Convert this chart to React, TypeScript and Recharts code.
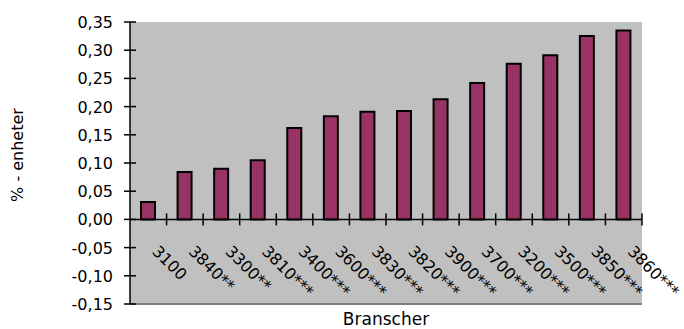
import { Bar, BarChart, CartesianGrid, ReferenceLine, XAxis, YAxis } from "recharts";

const categories = [
  "3100",
  "3840**",
  "3300**",
  "3810***",
  "3400***",
  "3600***",
  "3830***",
  "3820***",
  "3900***",
  "3700***",
  "3200***",
  "3500***",
  "3850***",
  "3860***",
];

const values = [0.031, 0.084, 0.09, 0.105, 0.162, 0.183, 0.191, 0.192, 0.213, 0.242, 0.276, 0.291, 0.325, 0.335];

const yTicks = [-0.15, -0.1, -0.05, 0, 0.05, 0.1, 0.15, 0.2, 0.25, 0.3, 0.35];

const data = categories.map((name, i) => ({ name, value: values[i] }));

// layout
const WIDTH = 684;
const HEIGHT = 329;
const MARGIN = { top: 22, right: 42, left: 0, bottom: 0 };
const Y_AXIS_WIDTH = 130;
const X_AXIS_HEIGHT = 25;
const Y_MIN = -0.15;
const Y_MAX = 0.35;
const FONT = "'DejaVu Sans', sans-serif";

const plotTop = MARGIN.top;
const plotHeight = HEIGHT - MARGIN.top - MARGIN.bottom - X_AXIS_HEIGHT;
const plotWidth = WIDTH - MARGIN.left - MARGIN.right - Y_AXIS_WIDTH;
const zeroY = plotTop + (Y_MAX / (Y_MAX - Y_MIN)) * plotHeight;
const band = plotWidth / categories.length;

function formatTick(value: number): string {
  return value.toFixed(2).replace(".", ",");
}

function XTick({ x, payload }: any) {
  const ox = x + 3;
  const oy = zeroY + 33;
  return (
    <g>
      <line x1={x + band / 2} x2={x + band / 2} y1={zeroY - 6} y2={zeroY + 6} stroke="#000" strokeWidth={1.5} />
      <text
        x={ox}
        y={oy}
        transform={`rotate(45, ${ox}, ${oy})`}
        fontFamily={FONT}
        fontSize={16}
        fill="#000"
        textAnchor="start"
      >
        {payload.value}
      </text>
    </g>
  );
}

function YTick({ x, y, payload }: any) {
  return (
    <g>
      <line x1={x - 6} x2={x + 6} y1={y} y2={y} stroke="#000" strokeWidth={1.5} />
      <text x={x - 17} y={y} dy={6} fontFamily={FONT} fontSize={16} fill="#000" textAnchor="end">
        {formatTick(payload.value)}
      </text>
    </g>
  );
}

function YLabel({ viewBox }: any) {
  const cx = 17;
  const cy = viewBox.y + viewBox.height / 2 - 8;
  return (
    <text
      x={cx}
      y={cy}
      transform={`rotate(-90, ${cx}, ${cy})`}
      fontFamily={FONT}
      fontSize={16}
      fill="#000"
      textAnchor="middle"
      dominantBaseline="central"
    >
      % - enheter
    </text>
  );
}

export default function App() {
  return (
    <div style={{ position: "absolute", left: 0, top: 0, width: WIDTH, height: HEIGHT, background: "#fff" }}>
      <BarChart width={WIDTH} height={HEIGHT} data={data} margin={MARGIN} barCategoryGap={0}>
        <CartesianGrid fill="#C0C0C0" stroke="none" horizontal={false} vertical={false} />
        <XAxis
          dataKey="name"
          interval={0}
          height={X_AXIS_HEIGHT}
          axisLine={{ stroke: "#808080", strokeWidth: 2 }}
          tickLine={false}
          tick={<XTick />}
          label={{
            value: "Branscher",
            position: "insideBottom",
            offset: 4,
            fill: "#000",
            fontSize: 17,
            fontFamily: FONT,
          }}
        />
        <XAxis
          xAxisId="top"
          dataKey="name"
          orientation="top"
          height={0}
          tick={false}
          tickLine={false}
          axisLine={{ stroke: "#808080", strokeWidth: 2 }}
        />
        <YAxis
          domain={[Y_MIN, Y_MAX]}
          ticks={yTicks}
          width={Y_AXIS_WIDTH}
          tickSize={0}
          tickMargin={0}
          tickLine={false}
          axisLine={{ stroke: "#000", strokeWidth: 1.5 }}
          tick={<YTick />}
          allowDataOverflow
          label={<YLabel />}
        />
        <YAxis
          yAxisId="right"
          orientation="right"
          width={0}
          tick={false}
          tickLine={false}
          axisLine={{ stroke: "#808080", strokeWidth: 2 }}
        />
        <Bar
          dataKey="value"
          fill="#993366"
          stroke="#000"
          strokeWidth={2}
          barSize={14}
          isAnimationActive={false}
        />
        <ReferenceLine y={0} stroke="#000" strokeWidth={1.5} />
      </BarChart>
    </div>
  );
}
